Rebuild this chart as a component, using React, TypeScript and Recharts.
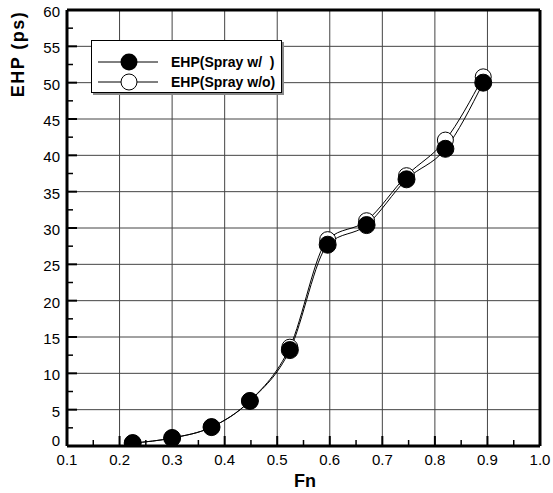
import React from "react";
import { LineChart, Line, XAxis, YAxis, CartesianGrid, ReferenceLine } from "recharts";

const fnValues = [0.225, 0.3, 0.375, 0.448, 0.524, 0.596, 0.67, 0.746, 0.82, 0.892];
const ehpSprayWith = [0.4, 1.1, 2.6, 6.2, 13.2, 27.7, 30.4, 36.7, 40.9, 50.0];
const ehpSprayWithout = [0.4, 1.1, 2.6, 6.2, 13.6, 28.4, 31.0, 37.2, 42.1, 50.8];

const xMajorTicks = [0.1, 0.2, 0.3, 0.4, 0.5, 0.6, 0.7, 0.8, 0.9, 1.0];
const xMinorTicks = [0.15, 0.25, 0.35, 0.45, 0.55, 0.65, 0.75, 0.85, 0.95];
const yMajorTicks = [0, 5, 10, 15, 20, 25, 30, 35, 40, 45, 50, 55, 60];
const yMinorTicks = [2.5, 7.5, 12.5, 17.5, 22.5, 27.5, 32.5, 37.5, 42.5, 47.5, 52.5, 57.5];

const seriesWithName = "EHP(Spray w/  )";
const seriesWithoutName = "EHP(Spray w/o)";

const data = fnValues.map((fn, i) => ({
  fn,
  withSpray: ehpSprayWith[i],
  withoutSpray: ehpSprayWithout[i],
}));

const FONT = "'Liberation Sans', Arial, Helvetica, sans-serif";
const isMajor = (v: number, arr: number[]) => arr.some((m) => Math.abs(m - v) < 1e-6);

const XTick = (props: any) => {
  const { x, y, payload } = props;
  const major = isMajor(payload.value, xMajorTicks);
  return (
    <g>
      <line x1={x} y1={y} x2={x} y2={y - (major ? 10 : 6)} stroke="#000" strokeWidth={major ? 2 : 1.5} />
      {major && (
        <text x={x} y={y + 19} textAnchor="middle" fontFamily={FONT} fontSize={15} fill="#000">
          {payload.value.toFixed(1)}
        </text>
      )}
    </g>
  );
};

const YTick = (props: any) => {
  const { x, y, payload } = props;
  const major = isMajor(payload.value, yMajorTicks);
  return (
    <g>
      <line x1={x} y1={y} x2={x + (major ? 10 : 6)} y2={y} stroke="#000" strokeWidth={major ? 2 : 1.5} />
      {major && (
        <text
          x={x - 7}
          y={payload.value === 0 ? y : y + 7}
          textAnchor="end"
          fontFamily={FONT}
          fontSize={15}
          fill="#000"
        >
          {payload.value}
        </text>
      )}
    </g>
  );
};

const FilledDot = (props: any) => {
  const { cx, cy } = props;
  if (cx == null || cy == null) return null;
  return <circle cx={cx} cy={cy} r={8.5} fill="#000" stroke="#000" strokeWidth={1} />;
};
const OpenDot = (props: any) => {
  const { cx, cy } = props;
  if (cx == null || cy == null) return null;
  return <circle cx={cx} cy={cy} r={8} fill="#fff" stroke="#000" strokeWidth={1} />;
};

const LegendBox = () => (
  <div
    style={{
      position: "absolute",
      left: 91,
      top: 40,
      width: 189,
      height: 51,
      background: "#fff",
      border: "1px solid #000",
      boxShadow: "2px 2px 0 #888",
    }}
  >
    <svg width={189} height={51} style={{ position: "absolute", left: 0, top: 0 }}>
      <line x1={6} y1={21} x2={66} y2={21} stroke="#000" strokeWidth={1} />
      <circle cx={37} cy={21} r={8.5} fill="#000" />
      <line x1={6} y1={41} x2={66} y2={41} stroke="#000" strokeWidth={1} />
      <circle cx={37} cy={41} r={8} fill="#fff" stroke="#000" strokeWidth={1} />
      <text x={79} y={26} fontFamily={FONT} fontWeight="bold" fontSize={14} fill="#000" style={{ whiteSpace: "pre" }}>
        {seriesWithName}
      </text>
      <text x={79} y={46} fontFamily={FONT} fontWeight="bold" fontSize={14} fill="#000">
        {seriesWithoutName}
      </text>
    </svg>
  </div>
);

export default function App() {
  return (
    <div style={{ position: "absolute", left: 0, top: 0, width: 553, height: 493, background: "#fff" }}>
      <LineChart width={553} height={493} data={data} margin={{ top: 10, right: 13, bottom: 0, left: 0 }}>
        <CartesianGrid
          stroke="#444"
          strokeWidth={1}
          verticalValues={xMajorTicks}
          horizontalValues={yMajorTicks}
        />
        <XAxis
          dataKey="fn"
          type="number"
          domain={[0.1, 1.0]}
          ticks={[...xMajorTicks, ...xMinorTicks].sort((a, b) => a - b)}
          interval={0}
          height={47}
          tickSize={0}
          tickMargin={0}
          tickLine={false}
          axisLine={{ stroke: "#000", strokeWidth: 3 }}
          tick={<XTick />}
          allowDataOverflow
        />
        <YAxis
          type="number"
          domain={[0, 60]}
          ticks={[...yMajorTicks, ...yMinorTicks].sort((a, b) => a - b)}
          interval={0}
          width={67}
          tickSize={0}
          tickMargin={0}
          tickLine={false}
          axisLine={{ stroke: "#000", strokeWidth: 3 }}
          tick={<YTick />}
          allowDataOverflow
        />
        <ReferenceLine y={60} stroke="#000" strokeWidth={3} />
        <ReferenceLine x={1.0} stroke="#000" strokeWidth={3} />
        <Line
          type="monotone"
          dataKey="withoutSpray"
          name={seriesWithoutName}
          stroke="#000"
          strokeWidth={1}
          dot={<OpenDot />}
          activeDot={false}
          isAnimationActive={false}
        />
        <Line
          type="monotone"
          dataKey="withSpray"
          name={seriesWithName}
          stroke="#000"
          strokeWidth={1}
          dot={<FilledDot />}
          activeDot={false}
          isAnimationActive={false}
        />
      </LineChart>
      <div
        style={{
          position: "absolute",
          left: 18,
          top: 54,
          transform: "translate(-50%, -50%) rotate(-90deg)",
          fontFamily: FONT,
          fontWeight: "bold",
          fontSize: 18,
          letterSpacing: 1.5,
          whiteSpace: "nowrap",
          lineHeight: "18px",
        }}
      >
        EHP (ps)
      </div>
      <div
        style={{
          position: "absolute",
          left: 305,
          top: 481,
          transform: "translate(-50%, -50%)",
          fontFamily: FONT,
          fontWeight: "bold",
          fontSize: 18,
          lineHeight: "18px",
        }}
      >
        Fn
      </div>
      <LegendBox />
    </div>
  );
}
